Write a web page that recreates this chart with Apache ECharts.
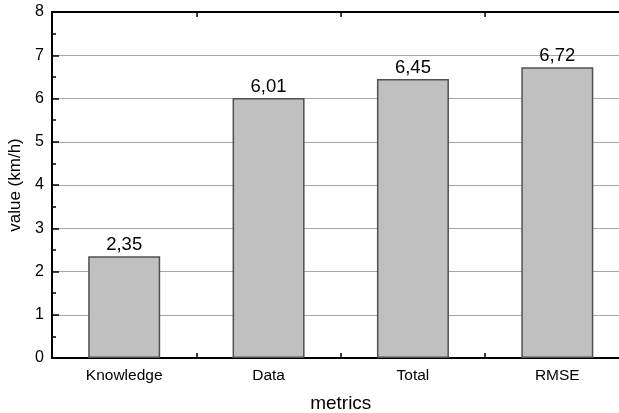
<!DOCTYPE html>
<html><head><meta charset="utf-8">
<script src="https://cdn.jsdelivr.net/npm/echarts@6/dist/echarts.min.js"></script>
<style>html,body{margin:0;padding:0;background:#fff;overflow:hidden;width:619px;height:413px}
#wrap{position:relative;width:619px;height:413px;overflow:hidden}
#c{position:absolute;left:0;top:0;width:630px;height:413px}</style>
</head><body><div id="wrap"><div id="c"></div></div>
<script>
var categories = ['Knowledge', 'Data', 'Total', 'RMSE'];
var values = [2.35, 6.01, 6.45, 6.72];
var yTicks = [0, 1, 2, 3, 4, 5, 6, 7, 8];
var FONT = '"Liberation Sans", Arial, sans-serif';
var chart = echarts.init(document.getElementById('c'), null, {renderer: 'canvas'});
chart.setOption({
  animation: false,
  backgroundColor: '#fff',
  textStyle: {fontFamily: FONT},
  grid: {left: 52, top: 12, right: 0.5, bottom: 55, containLabel: false, outerBoundsMode: 'none'},
  xAxis: [{
    type: 'category', data: categories, position: 'bottom',
    name: 'metrics', nameLocation: 'middle', nameGap: 36,
    nameTextStyle: {fontSize: 19, color: '#000', fontFamily: FONT},
    axisLine: {lineStyle: {color: '#000', width: 2}},
    axisTick: {show: true, inside: true, length: 5, interval: 0, alignWithLabel: false, lineStyle: {color: '#000', width: 1.5}},
    axisLabel: {fontSize: 15.5, color: '#000', margin: 10, fontFamily: FONT},
    splitLine: {show: false}
  }, {
    type: 'category', data: categories, position: 'top',
    axisLine: {show: true, lineStyle: {color: '#000', width: 2}},
    axisTick: {show: true, inside: true, length: 5, interval: 0, lineStyle: {color: '#000', width: 1.5}},
    axisLabel: {show: false}
  }],
  yAxis: {
    type: 'value', min: yTicks[0], max: yTicks[yTicks.length - 1], interval: 1,
    name: 'value (km/h)', nameLocation: 'middle', nameGap: 23, nameRotate: 90,
    nameTextStyle: {fontSize: 17, color: '#000', fontFamily: FONT},
    axisLine: {show: true, lineStyle: {color: '#000', width: 2}},
    axisTick: {show: true, inside: true, length: 7, lineStyle: {color: '#000', width: 1.5}},
    minorTick: {show: true, splitNumber: 2, length: 4, lineStyle: {color: '#000', width: 1.5}},
    axisLabel: {fontSize: 16, color: '#000', margin: 8, fontFamily: FONT},
    splitLine: {show: true, lineStyle: {color: '#a6a6a6', width: 1.2}}
  },
  series: [{
    type: 'bar', data: values, barWidth: 72,
    itemStyle: {color: '#c0c0c0', borderColor: '#505050', borderWidth: 1.5},
    label: {show: true, position: 'top', distance: 2, fontSize: 18.5, color: '#000', fontFamily: FONT,
      formatter: function (p) { return p.value.toFixed(2).replace('.', ','); }},
    z: 3
  }]
});
</script></body></html>
